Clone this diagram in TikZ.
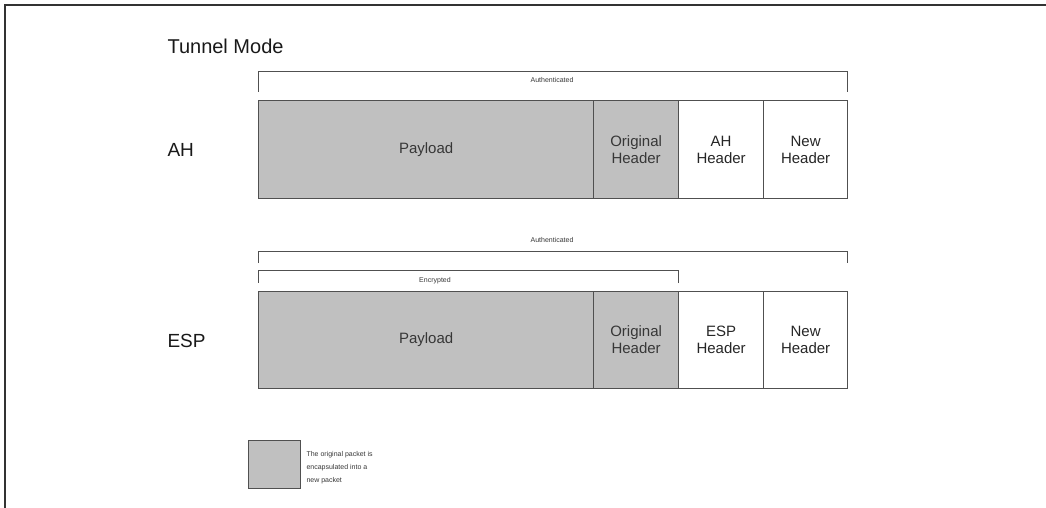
\documentclass[tikz,border=0pt]{standalone}
\usepackage{fontspec}
\setmainfont{Liberation Sans}
\definecolor{pktgray}{RGB}{192,192,192}
\definecolor{edge}{RGB}{80,80,80}
\definecolor{ink}{RGB}{55,55,55}
\tikzset{
  cell/.style={draw=edge, line width=1.2pt, anchor=north west, inner sep=0pt,
    align=center, font=\fontsize{15}{17}\selectfont, text=ink},
  inner/.style={cell, fill=pktgray},
  outer/.style={cell, fill=white, text=black!85},
  bracket/.style={draw=edge, line width=1pt},
  tag/.style={font=\fontsize{7}{8}\selectfont, text=ink},
  rowlabel/.style={anchor=west, font=\fontsize{19}{21}\selectfont, text=black!90},
}
\begin{document}
\begin{tikzpicture}[x=1pt, y=-1pt]
\useasboundingbox (0,0) rectangle (1046,508);
% frame
\draw[line width=2pt, color=black!80] (5,508) -- (5,5) -- (1046,5);

\node[anchor=west, font=\fontsize{20}{22}\selectfont, text=black!90] (title) at (164,46) {Tunnel Mode};

% ---- AH ----
\node[rowlabel] (ahlab) at (164,150) {AH};
\node[inner, minimum width=335pt, minimum height=98pt] (ahpay) at (258,100) {Payload};
\node[inner, minimum width=85pt, minimum height=98pt] (ahorig) at (593,100) {Original\\Header};
\node[outer, minimum width=85pt, minimum height=98pt] (ahhdr) at (678,100) {AH\\Header};
\node[outer, minimum width=84pt, minimum height=98pt] (ahnew) at (763,100) {New\\Header};
\draw[bracket] (258,92) -- (258,72) -- (847,72) -- (847,92);
\node[tag] (ahauth) at (552,80) {Authenticated};

% ---- ESP ----
\node[rowlabel] (esplab) at (164,341) {ESP};
\node[inner, minimum width=335pt, minimum height=97pt] (esppay) at (258,291) {Payload};
\node[inner, minimum width=85pt, minimum height=97pt] (esporig) at (593,291) {Original\\Header};
\node[outer, minimum width=85pt, minimum height=97pt] (esphdr) at (678,291) {ESP\\Header};
\node[outer, minimum width=84pt, minimum height=97pt] (espnew) at (763,291) {New\\Header};
\draw[bracket] (258,263) -- (258,251) -- (847,251) -- (847,263);
\node[tag] (espauth) at (552,240) {Authenticated};
\draw[bracket] (678,283) -- (678,270) -- (258,270) -- (258,283);
\node[tag] (espenc) at (435,281) {Encrypted};

% ---- legend ----
\node[inner, minimum width=52pt, minimum height=48pt] (key) at (248,440) {};
\node[anchor=west, align=left, font=\fontsize{7}{13}\selectfont, text=ink] (keytext) at (303,468)
  {The original packet is\\encapsulated into a\\new packet};
\end{tikzpicture}
\end{document}
